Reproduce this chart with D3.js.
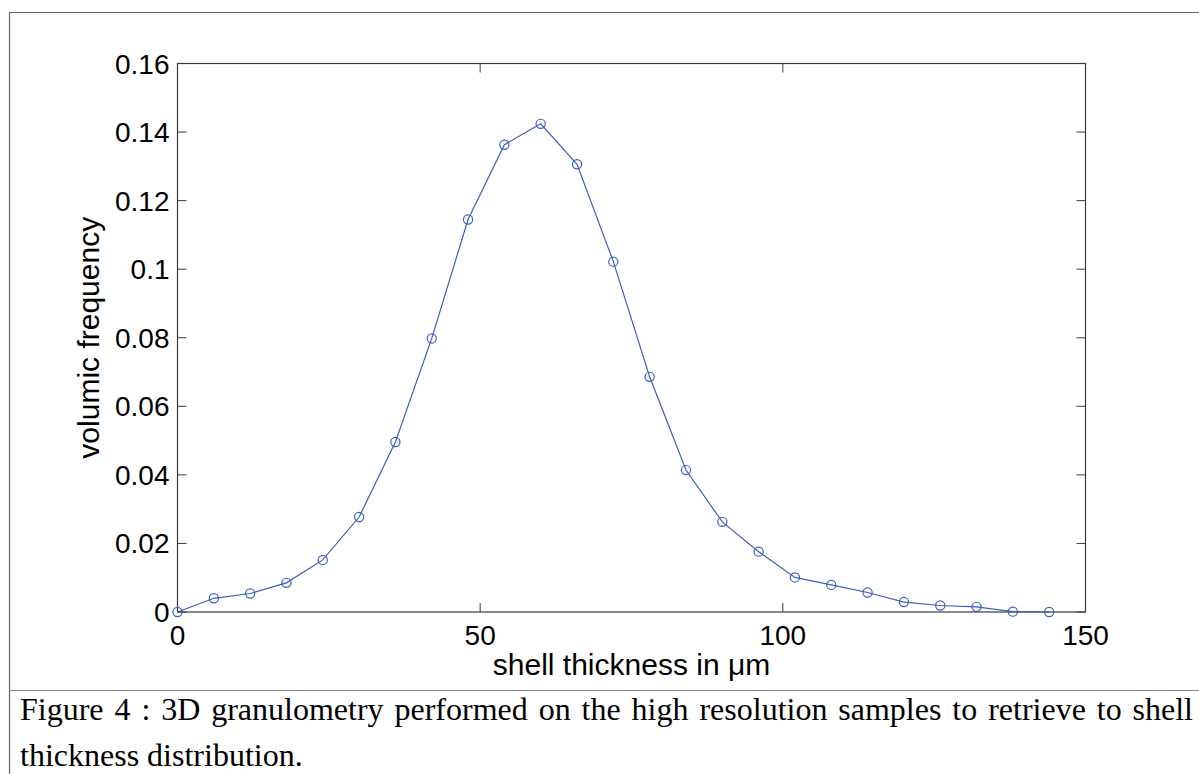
<!DOCTYPE html>
<html>
<head>
<meta charset="utf-8">
<script src="https://cdn.jsdelivr.net/npm/d3@7"></script>
<style>
  body { margin: 0; background: #fff; }
  svg { display: block; }
</style>
</head>
<body>
<div id="graph"></div>
<script>
// --- data ---
let thickness = [0, 6, 12, 18, 24, 30, 36, 42, 48, 54, 60, 66, 72, 78, 84, 90, 96, 102, 108, 114, 120, 126, 132, 138, 144];
let frequency = [0, 0.0040, 0.0054, 0.0085, 0.0152, 0.0277, 0.0496, 0.0798, 0.1145, 0.1363, 0.1424, 0.1306, 0.1022, 0.0686,
                 0.0414, 0.0263, 0.0176, 0.0101, 0.0079, 0.0057, 0.0029, 0.0019, 0.0015, 0.0001, 0];

let x_ticks = [0, 50, 100, 150];
let x_tick_labels = ["0", "50", "100", "150"];
let y_ticks = [0, 0.02, 0.04, 0.06, 0.08, 0.1, 0.12, 0.14, 0.16];
let y_tick_labels = ["0", "0.02", "0.04", "0.06", "0.08", "0.1", "0.12", "0.14", "0.16"];

let x_label = "shell thickness in \u03bcm";
let y_label = "volumic frequency";
let caption_line1 = "Figure 4 : 3D granulometry performed on the high resolution samples to retrieve to shell";
let caption_line2 = "thickness distribution.";

// --- layout ---
let width = 1199, height = 774;
let plot = {left: 177.5, right: 1085.5, top: 63.5, bottom: 612};
let axisColor = "#3a3a3a";
let lineColor = "#3d5fbd";
let tickLen = 9;

let svg = d3.select("#graph")
    .append("svg")
    .attr("width", width)
    .attr("height", height);

// table frame around figure + caption
svg.append("line").attr("x1", 9.5).attr("x2", width).attr("y1", 12.5).attr("y2", 12.5)
    .attr("stroke", "#666").attr("stroke-width", 1.2);
svg.append("line").attr("x1", 9.5).attr("x2", 9.5).attr("y1", 12).attr("y2", height)
    .attr("stroke", "#666").attr("stroke-width", 1.2);
svg.append("line").attr("x1", 9).attr("x2", width).attr("y1", 690.5).attr("y2", 690.5)
    .attr("stroke", "#888").attr("stroke-width", 1.2);

let x = d3.scaleLinear().domain([0, 150]).range([plot.left, plot.right]);
let y = d3.scaleLinear().domain([0, 0.16]).range([plot.bottom, plot.top]);

// box
svg.append("rect")
    .attr("x", plot.left).attr("y", plot.top)
    .attr("width", plot.right - plot.left).attr("height", plot.bottom - plot.top)
    .attr("fill", "none").attr("stroke", axisColor).attr("stroke-width", 1.2);

// ticks (inward, mirrored on top/right like matlab)
let axisFont = "'Liberation Sans', Arial, sans-serif";

let xt = svg.append("g").selectAll("g").data(x_ticks).enter().append("g");
xt.append("line")
    .attr("x1", d => x(d)).attr("x2", d => x(d))
    .attr("y1", plot.bottom).attr("y2", plot.bottom - tickLen)
    .attr("stroke", axisColor);
xt.append("line")
    .attr("x1", d => x(d)).attr("x2", d => x(d))
    .attr("y1", plot.top).attr("y2", plot.top + tickLen)
    .attr("stroke", axisColor);
xt.append("text")
    .attr("x", d => x(d))
    .attr("y", plot.bottom + 33)
    .attr("text-anchor", "middle")
    .style("font-family", axisFont)
    .style("font-size", "28px")
    .attr("fill", "#000")
    .text((d, i) => x_tick_labels[i]);

let yt = svg.append("g").selectAll("g").data(y_ticks).enter().append("g");
yt.append("line")
    .attr("x1", plot.left).attr("x2", plot.left + tickLen)
    .attr("y1", d => y(d)).attr("y2", d => y(d))
    .attr("stroke", axisColor);
yt.append("line")
    .attr("x1", plot.right).attr("x2", plot.right - tickLen)
    .attr("y1", d => y(d)).attr("y2", d => y(d))
    .attr("stroke", axisColor);
yt.append("text")
    .attr("x", plot.left - 8)
    .attr("y", d => y(d) + 10)
    .attr("text-anchor", "end")
    .style("font-family", axisFont)
    .style("font-size", "28px")
    .attr("fill", "#000")
    .text((d, i) => y_tick_labels[i]);

// axis labels
svg.append("text")
    .attr("x", (plot.left + plot.right) / 2)
    .attr("y", 675)
    .attr("text-anchor", "middle")
    .style("font-family", axisFont)
    .style("font-size", "30px")
    .attr("fill", "#000")
    .text(x_label);

svg.append("text")
    .attr("transform", "translate(99," + ((plot.top + plot.bottom) / 2) + ") rotate(-90)")
    .attr("text-anchor", "middle")
    .style("font-family", axisFont)
    .style("font-size", "30px")
    .attr("fill", "#000")
    .text(y_label);

// data line + circle markers
let pts = thickness.map((t, i) => ({t: t, f: frequency[i]}));

svg.append("path")
    .datum(pts)
    .attr("fill", "none")
    .attr("stroke", lineColor)
    .attr("stroke-width", 1.2)
    .attr("d", d3.line().x(d => x(d.t)).y(d => y(d.f)));

svg.selectAll(".marker").data(pts).enter()
    .append("circle")
    .attr("class", "marker")
    .attr("cx", d => x(d.t))
    .attr("cy", d => y(d.f))
    .attr("r", 4.6)
    .attr("fill", "none")
    .attr("stroke", lineColor)
    .attr("stroke-width", 1.2);

// caption, first line justified between the frame margins
let capFont = "'Liberation Serif', 'Times New Roman', serif";
let capLeft = 20, capRight = 1193;

let words = caption_line1.split(" ");
let capG = svg.append("g");
let wordNodes = capG.selectAll("text").data(words).enter()
    .append("text")
    .attr("y", 720)
    .style("font-family", capFont)
    .style("font-size", "32px")
    .attr("fill", "#000")
    .text(d => d);

let widths = [];
wordNodes.each(function() { widths.push(this.getComputedTextLength()); });
let gap = (capRight - capLeft - d3.sum(widths)) / (words.length - 1);
let cx = capLeft;
wordNodes.attr("x", function(d, i) {
    let pos = cx;
    cx += widths[i] + gap;
    return pos;
});

svg.append("text")
    .attr("x", capLeft)
    .attr("y", 766)
    .style("font-family", capFont)
    .style("font-size", "32px")
    .attr("fill", "#000")
    .text(caption_line2);
</script>
</body>
</html>
